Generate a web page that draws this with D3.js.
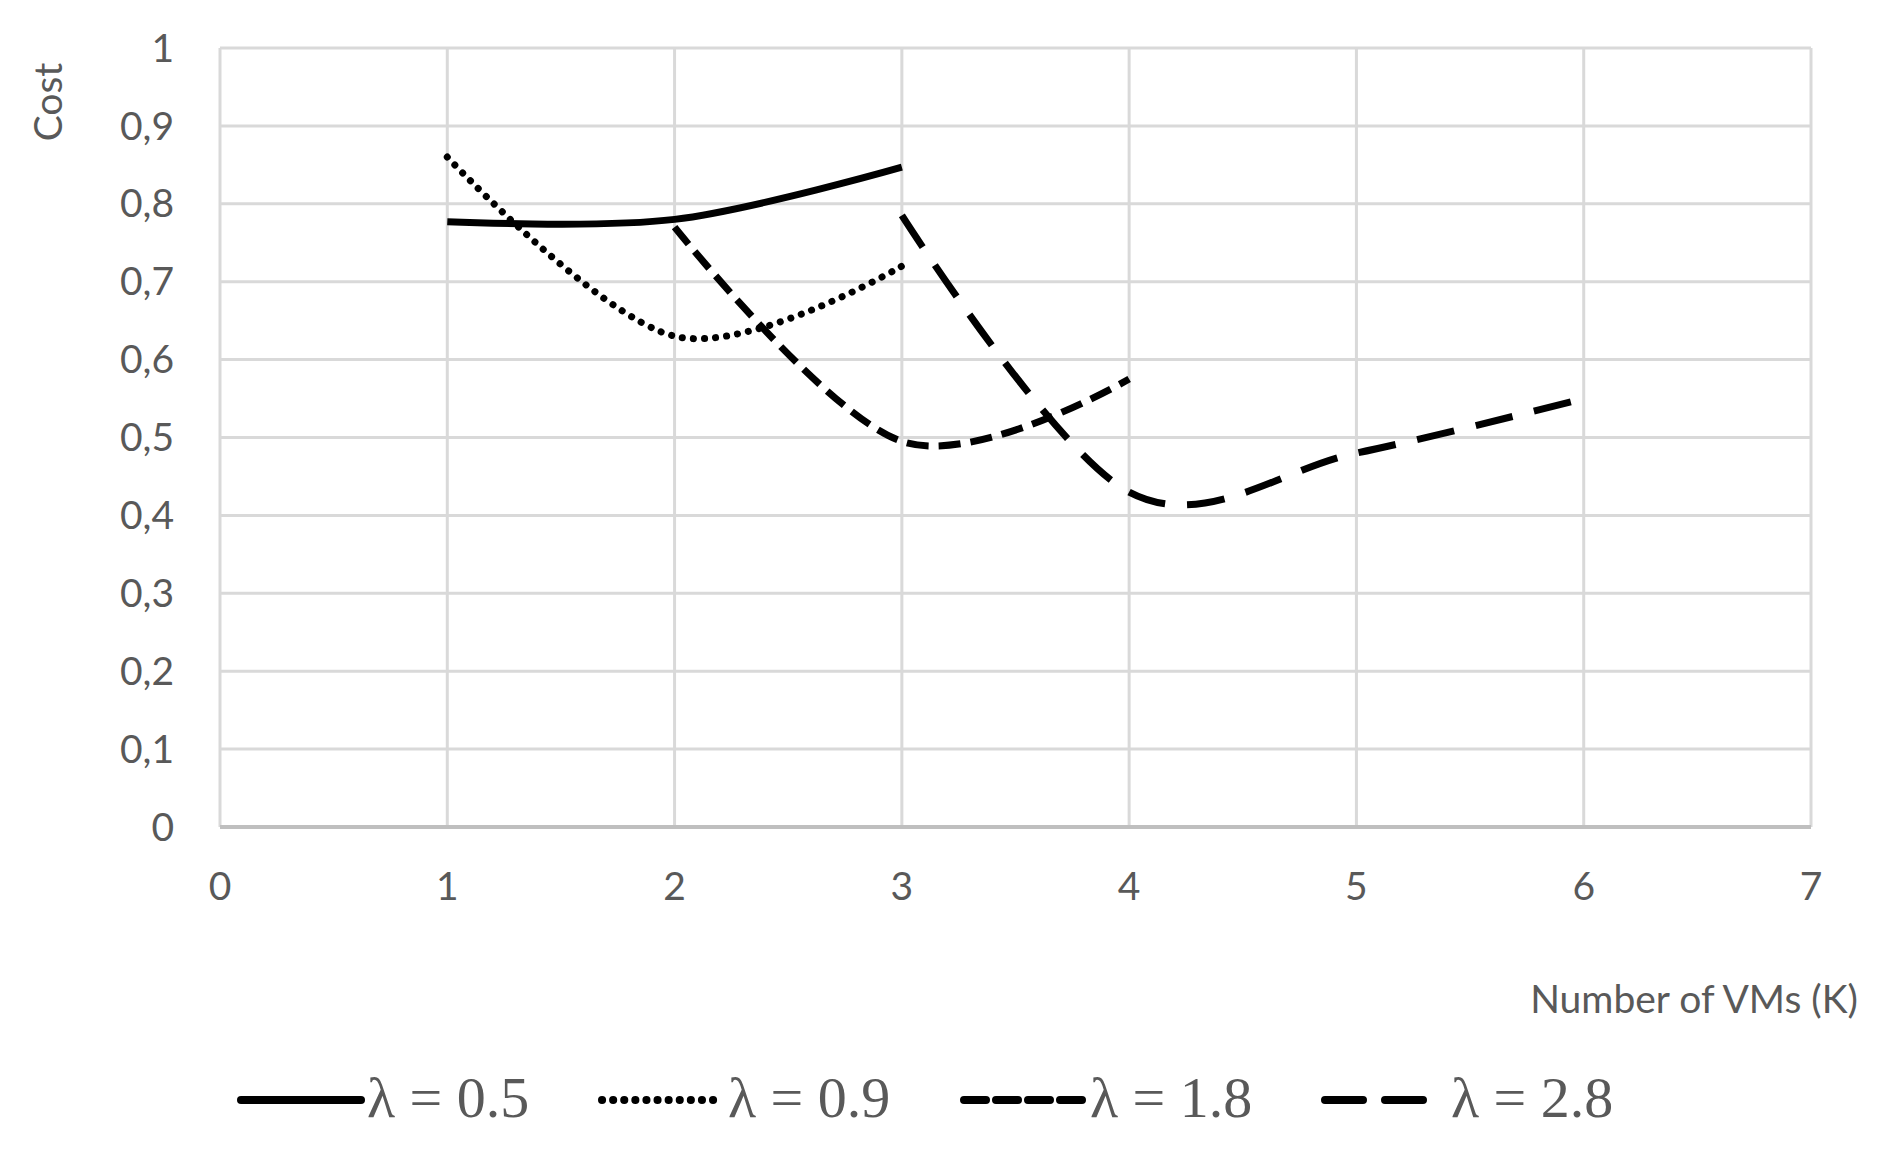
<!DOCTYPE html>
<html><head><meta charset="utf-8">
<script src="https://cdn.jsdelivr.net/npm/d3@7"></script>
<style>body{margin:0;background:#fff}</style>
</head><body>
<svg id="chart" width="1880" height="1150"></svg>
<script>
const seriesNames = ['λ = 0.5', 'λ = 0.9', 'λ = 1.8', 'λ = 2.8'];
const seriesX = [[1, 2, 3], [1, 2, 3], [2, 3, 4], [3, 4, 5, 6]];
const seriesY = [[0.777, 0.78, 0.847], [0.86, 0.63, 0.72], [0.77, 0.495, 0.575], [0.785, 0.43, 0.48, 0.55]];
const xTicks = [0, 1, 2, 3, 4, 5, 6, 7];
const yTicks = [0, 0.1, 0.2, 0.3, 0.4, 0.5, 0.6, 0.7, 0.8, 0.9, 1];

const dashes = ['none', '0.1 11', '22 10', '38 22'];
const svg = d3.select('#chart');
const x = d3.scaleLinear().domain([0, 7]).range([220, 1811]);
const y = d3.scaleLinear().domain([0, 1]).range([827, 48]);
const txt = '#595959';
const sans = 'Lato, "Open Sans", sans-serif';

// grid
svg.append('g').selectAll('line').data(yTicks.slice(1)).join('line')
    .attr('x1', x(0)).attr('x2', x(7)).attr('y1', d => y(d)).attr('y2', d => y(d))
    .attr('stroke', '#d9d9d9').attr('stroke-width', 3);
svg.append('g').selectAll('line').data(xTicks).join('line')
    .attr('y1', y(0)).attr('y2', y(1)).attr('x1', d => x(d)).attr('x2', d => x(d))
    .attr('stroke', '#d9d9d9').attr('stroke-width', 3);
svg.append('line').attr('x1', x(0)).attr('x2', x(7)).attr('y1', y(0)).attr('y2', y(0))
    .attr('stroke', '#bfbfbf').attr('stroke-width', 4);

// tick labels
svg.append('g').selectAll('text').data(yTicks).join('text')
    .attr('x', 174).attr('y', d => y(d)).attr('dy', '0.35em').attr('text-anchor', 'end')
    .attr('font-family', sans).attr('font-size', 39).attr('fill', txt)
    .text(d => d3.format('.1~f')(d).replace('.', ','));
svg.append('g').selectAll('text').data(xTicks).join('text')
    .attr('x', d => x(d)).attr('y', 900).attr('text-anchor', 'middle')
    .attr('font-family', sans).attr('font-size', 39).attr('fill', txt).text(d => d);

// axis titles
svg.append('text').attr('transform', 'translate(62,102) rotate(-90)').attr('text-anchor', 'middle')
    .attr('font-family', sans).attr('font-size', 39).attr('fill', txt).text('Cost');
svg.append('text').attr('x', 1858).attr('y', 1013).attr('text-anchor', 'end')
    .attr('font-family', sans).attr('font-size', 39).attr('fill', txt).text('Number of VMs (K)');

// lines
const line = d3.line().x(d => x(d[0])).y(d => y(d[1])).curve(d3.curveCardinal.tension(0));
seriesNames.forEach((name, i) => {
    const pts = seriesX[i].map((v, j) => [v, seriesY[i][j]]);
    svg.append('path').attr('d', line(pts)).attr('fill', 'none').attr('stroke', '#000')
        .attr('stroke-width', 7).attr('stroke-dasharray', dashes[i])
        .attr('stroke-linecap', i === 1 ? 'round' : 'butt');
});

// legend
const legX = [241, 602, 964, 1325];
seriesNames.forEach((name, i) => {
    svg.append('line').attr('x1', legX[i]).attr('x2', legX[i] + 120).attr('y1', 1100).attr('y2', 1100)
        .attr('stroke', '#000').attr('stroke-width', 8).attr('stroke-dasharray', dashes[i])
        .attr('stroke-linecap', 'round');
    svg.append('text').attr('x', legX[i] + 126).attr('y', 1117)
        .attr('font-family', '"Liberation Serif", serif').attr('font-size', 58).attr('fill', txt).text(name);
});
</script>
</body></html>
